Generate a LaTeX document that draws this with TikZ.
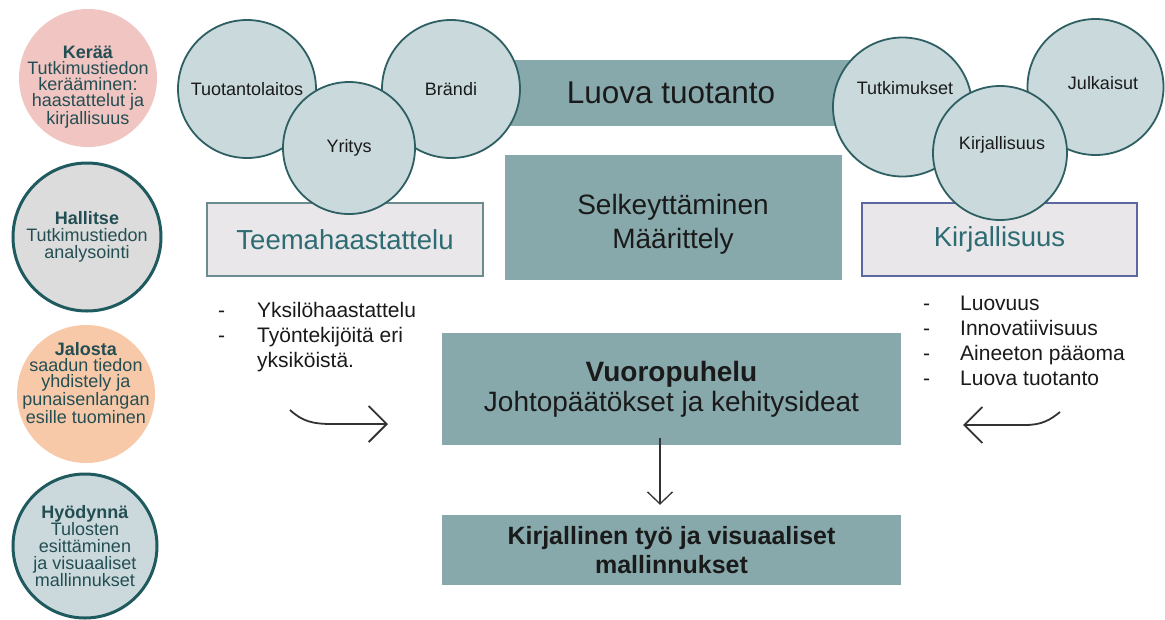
\documentclass[tikz,border=0pt]{standalone}
\usepackage{fontspec}
\setmainfont{Liberation Sans}
\usetikzlibrary{arrows.meta}
\definecolor{tealbox}{HTML}{87A9AC}
\definecolor{circfill}{HTML}{CAD9DC}
\definecolor{circline}{HTML}{2E5F62}
\definecolor{pinkc}{HTML}{F0C5C2}
\definecolor{peachc}{HTML}{F7C9A9}
\definecolor{grayc}{HTML}{DCDCDC}
\definecolor{bluec}{HTML}{CBD9DC}
\definecolor{leftline}{HTML}{1F5A5E}
\definecolor{lefttext}{HTML}{234E53}
\definecolor{headtext}{HTML}{2C6C72}
\definecolor{lightbox}{HTML}{E9E7EA}
\definecolor{teemaline}{HTML}{6C8B8E}
\definecolor{kirjline}{HTML}{5A67A0}
\definecolor{txt}{HTML}{1A1A1A}
\definecolor{arrc}{HTML}{333333}
\begin{document}
\begin{tikzpicture}[x=1pt,y=-1pt,
  topc/.style={circle, draw=circline, line width=1.8pt, fill=circfill, inner sep=0pt,
    minimum size=#1, text=txt, font=\fontsize{18}{20}\selectfont},
  leftc/.style={circle, inner sep=0pt, minimum size=#1},
  lefttxt/.style={align=center, text=lefttext, inner sep=0pt, font=\fontsize{18}{16}\selectfont},
  tbox/.style={rectangle, fill=tealbox, inner sep=0pt, text=txt, align=center},
  lbox/.style={rectangle, fill=lightbox, inner sep=0pt, text=headtext, font=\fontsize{27.5}{30}\selectfont},
  bul/.style={inner sep=0pt, anchor=base west, text=txt, font=\fontsize{21}{25}\selectfont},
  sarrow/.style={draw=arrc, line width=1.8pt, -{Straight Barb[length=18pt, width=36pt]}},
  darrow/.style={draw=arrc, line width=1.3pt, -{Straight Barb[length=12pt, width=25pt]}}
]
\fill[white] (0,0) rectangle (1165,619);
\useasboundingbox (0,0) rectangle (1165,619);

% central bars
\node[tbox, minimum width=362pt, minimum height=66pt, font=\fontsize{31.5}{34}\selectfont] (luova) at (671,93) {Luova tuotanto};
\node[tbox, minimum width=337pt, minimum height=125pt] (selk) at (673.5,217.5) {};
\node[text=txt, align=center, inner sep=0pt, font=\fontsize{28}{34}\selectfont] (selkt) at (673,224) {Selkeyttäminen\\Määrittely};

% side boxes
\node[lbox, draw=teemaline, line width=2pt, minimum width=276pt, minimum height=73pt] (teema) at (345,239.5) {Teemahaastattelu};
\node[lbox, draw=kirjline, line width=1.5pt, minimum width=275pt, minimum height=73pt] (kirjbox) at (999.5,239.5) {Kirjallisuus};

% top-left circles
\node[topc=138pt] (tuot) at (247,89) {Tuotantolaitos};
\node[topc=138pt] (brandi) at (451,89) {Brändi};
\node[topc=132pt] (yritys) at (349,148) {Yritys};
% top-right circles
\node[topc=139pt] (tutk) at (902.5,107) {};
\node[text=txt, inner sep=0pt, font=\fontsize{18}{20}\selectfont] (tutkt) at (905,88) {Tutkimukset};
\node[topc=136pt] (julk) at (1095.5,87) {};
\node[text=txt, inner sep=0pt, font=\fontsize{18}{20}\selectfont] (julkt) at (1103,83) {Julkaisut};
\node[topc=134pt] (kirjc) at (1000,153) {};
\node[text=txt, inner sep=0pt, font=\fontsize{18}{20}\selectfont] (kirjct) at (1002,145) {Kirjallisuus};

% left column circles
\node[leftc=138pt, fill=pinkc] (keraa) at (88,78) {};
\node[lefttxt] (keraat) at (88,87) {\textbf{Kerää}\\Tutkimustiedon\\kerääminen:\\haastattelut ja\\kirjallisuus};
\node[leftc=148pt, fill=grayc, draw=leftline, line width=3pt] (hallitse) at (87,237) {};
\node[lefttxt, font=\fontsize{18}{17}\selectfont] (hallitset) at (87,237) {\textbf{Hallitse}\\Tutkimustiedon\\analysointi};
\node[leftc=138pt, fill=peachc] (jalosta) at (86,394) {};
\node[lefttxt] (jalostat) at (86,383) {\textbf{Jalosta}\\saadun tiedon\\yhdistely ja\\punaisenlangan\\esille tuominen};
\node[leftc=144pt, fill=bluec, draw=leftline, line width=3pt] (hyod) at (85,546) {};
\node[lefttxt, font=\fontsize{18}{16.8}\selectfont] (hyodt) at (85,546) {\textbf{Hyödynnä}\\Tulosten\\esittäminen\\ja visuaaliset\\mallinnukset};

% lower boxes
\node[tbox, minimum width=459pt, minimum height=112pt, font=\fontsize{28}{30}\selectfont] (vuoro) at (671.5,389) {\textbf{Vuoropuhelu}\\Johtopäätökset ja kehitysideat};
\node[tbox, minimum width=459pt, minimum height=70pt, font=\bfseries\fontsize{25}{29}\selectfont] (kt) at (671.5,550) {Kirjallinen työ ja visuaaliset\\mallinnukset};

% bullet lists
\node[bul] (lbul) at (218,317) {\parbox[t]{230pt}{\raggedright\makebox[39pt][l]{-}Yksilöhaastattelu\\\makebox[39pt][l]{-}Työntekijöitä eri\\\hspace*{39pt}yksiköistä.}};
\node[bul] (rbul) at (923,310) {\parbox[t]{230pt}{\raggedright\makebox[37pt][l]{-}Luovuus\\\makebox[37pt][l]{-}Innovatiivisuus\\\makebox[37pt][l]{-}Aineeton pääoma\\\makebox[37pt][l]{-}Luova tuotanto}};

% arrows
\coordinate (las) at (290,410);
\coordinate (lae) at (388,424);
\draw[sarrow] (las) .. controls (302,421) and (312,424) .. (332,424) -- (lae);
\coordinate (ras) at (1060,412);
\coordinate (rae) at (963,425);
\draw[sarrow] (ras) .. controls (1050,420) and (1042,425) .. (1025,425) -- (rae);
\draw[darrow, shorten >=10pt] ([shift={(-11.5,-7)}]vuoro.south) -- ([xshift=-11.5pt]kt.north);
\end{tikzpicture}
\end{document}
